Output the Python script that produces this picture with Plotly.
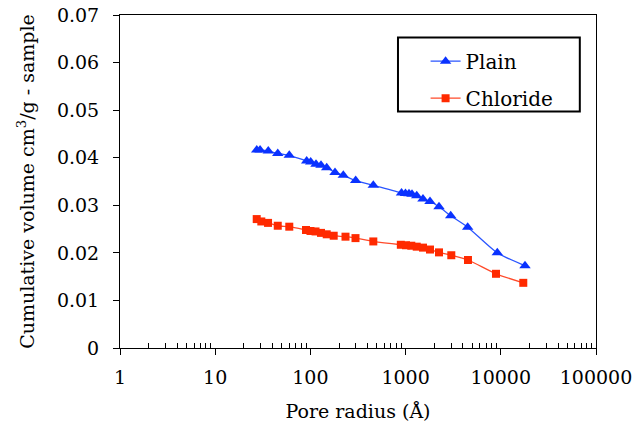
import plotly.graph_objects as go

plain_x = [27.3, 29.6, 36.1, 45.4, 60.0, 91.4, 100.7, 114.5, 129.2, 148.4, 181.3, 221.6, 299, 458,
           906, 997, 1086, 1167, 1309, 1523, 1804, 2243, 2978, 4489, 9187, 17960]
plain_y = [0.0416, 0.0416, 0.0414, 0.0409, 0.0405, 0.0393, 0.0391, 0.0386, 0.0384, 0.0379, 0.0369,
           0.0363, 0.0352, 0.0342, 0.0326, 0.0325, 0.0324, 0.0323, 0.0320, 0.0313, 0.0308, 0.0297,
           0.0278, 0.0254, 0.0200, 0.0173]

chloride_x = [27.3, 30.5, 35.9, 45.4, 60.0, 89.9, 100.2, 113.2, 129.2, 148.4, 175.7, 233.7, 297.7, 458,
              891, 1010, 1148, 1309, 1523, 1804, 2243, 3020, 4520, 8906, 17230]
chloride_y = [0.0271, 0.0266, 0.0263, 0.0257, 0.0255, 0.0248, 0.0246, 0.0245, 0.0242, 0.0239, 0.0236,
              0.0234, 0.0231, 0.0224, 0.0217, 0.0216, 0.0215, 0.0213, 0.0211, 0.0207, 0.0201, 0.0195,
              0.0185, 0.0156, 0.0137]

x_tickvals = [1, 10, 100, 1000, 10000, 100000]
x_ticktext = ["1", "10", "100", "1000", "10000", "100000"]
x_minor = [m * 10 ** k for k in range(5) for m in range(2, 10)]

FONT = "DejaVu Serif"

fig = go.Figure()
fig.add_trace(go.Scatter(
    x=plain_x, y=plain_y, name="Plain", mode="lines+markers", legendgroup="a",
    line=dict(color="#2a55ff", width=1.3, shape="spline", smoothing=0.6),
    marker=dict(symbol="triangle-up", size=10, color="#0a32ff"),
))
fig.add_trace(go.Scatter(
    x=chloride_x, y=chloride_y, name="Chloride", mode="lines+markers", legendgroup="b",
    line=dict(color="#ff4a2a", width=1.3, shape="spline", smoothing=0.6),
    marker=dict(symbol="square", size=8, color="#ff2a00"),
))

fig.add_shape(type="rect", xref="paper", yref="paper", x0=0.584, x1=0.966, y0=0.7102, y1=0.9324,
              line=dict(color="black", width=2), fillcolor="rgba(0,0,0,0)", layer="above")

fig.update_layout(
    width=634, height=430,
    margin=dict(l=120, r=38, t=15, b=82),
    paper_bgcolor="white", plot_bgcolor="white",
    font=dict(family=FONT, color="black", size=19),
    legend=dict(x=0.642, y=0.92, xanchor="left", yanchor="top",
                borderwidth=0, bgcolor="rgba(0,0,0,0)",
                font=dict(size=20, family=FONT), tracegroupgap=8),
    xaxis=dict(
        type="log", range=[0, 5], tickmode="array", tickvals=x_tickvals, ticktext=x_ticktext,
        ticks="outside", ticklen=6, tickcolor="black", showline=True, linecolor="black",
        linewidth=1, mirror=True, showgrid=False, zeroline=False, automargin=False,
        ticklabelstandoff=6,
        minor=dict(tickmode="array", tickvals=x_minor, ticks="inside", ticklen=5,
                   tickcolor="black", showgrid=False),
        title=dict(text="Pore radius (Å)", font=dict(size=19, family=FONT), standoff=17),
        tickfont=dict(size=19, family=FONT),
    ),
    yaxis=dict(
        range=[0, 0.07], dtick=0.01, tick0=0, ticks="outside", ticklen=6, tickcolor="black",
        showline=True, linecolor="black", linewidth=1, mirror=True, showgrid=False,
        zeroline=False, automargin=False, ticklabelstandoff=10,
        title=dict(text="Cumulative volume cm<sup>3</sup>/g - sample", font=dict(size=19, family=FONT), standoff=17),
        tickfont=dict(size=19, family=FONT),
    ),
)

fig.write_html("out.html")
